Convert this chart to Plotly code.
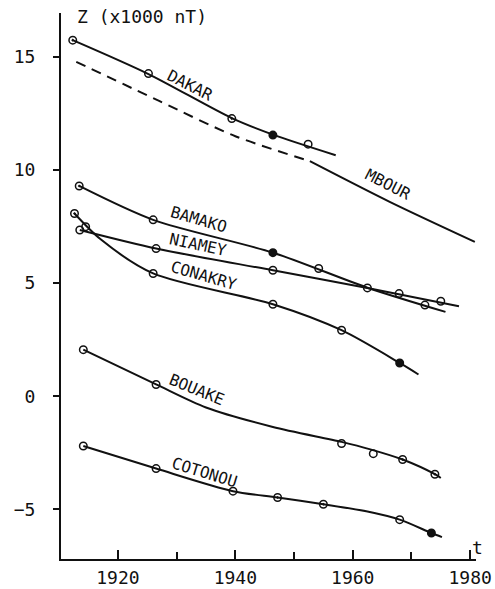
import plotly.graph_objects as go

# ---------------- data ----------------
# observations (markers) and smooth curve knots, per station
dakar_obs_t = [1912.3, 1925.2, 1939.4, 1946.4, 1952.4]
dakar_obs_z = [15.75, 14.27, 12.28, 11.55, 11.15]
dakar_curve_t = [1912.3, 1925.2, 1939.4, 1946.4, 1957.1]
dakar_curve_z = [15.75, 14.25, 12.3, 11.57, 10.66]

dakar_dash_t = [1912.9, 1927.1, 1940.0, 1952.7]
dakar_dash_z = [14.79, 13.05, 11.50, 10.40]

mbour_curve_t = [1952.7, 1966.3, 1980.8]
mbour_curve_z = [10.40, 8.60, 6.83]

bamako_obs_t = [1913.4, 1926.0, 1946.4, 1954.2, 1972.3]
bamako_obs_z = [9.30, 7.80, 6.35, 5.65, 4.03]
bamako_curve_t = [1913.4, 1926.0, 1946.4, 1962.5, 1975.8]
bamako_curve_z = [9.30, 7.80, 6.35, 4.80, 3.73]

niamey_obs_t = [1913.5, 1926.5, 1946.4, 1962.5, 1967.9, 1975.0]
niamey_obs_z = [7.35, 6.53, 5.57, 4.79, 4.54, 4.20]
niamey_curve_t = [1913.5, 1926.5, 1946.4, 1962.5, 1978.1]
niamey_curve_z = [7.35, 6.53, 5.57, 4.79, 3.98]

conakry_obs_t = [1912.6, 1914.5, 1926.0, 1946.4, 1958.1, 1968.0]
conakry_obs_z = [8.08, 7.50, 5.43, 4.07, 2.92, 1.47]
conakry_curve_t = [1912.6, 1917.0, 1926.0, 1946.4, 1958.1, 1968.0, 1971.2]
conakry_curve_z = [8.08, 6.95, 5.43, 4.07, 2.92, 1.47, 0.96]

bouake_obs_t = [1914.1, 1926.5, 1958.1, 1963.5, 1968.5, 1974.0]
bouake_obs_z = [2.06, 0.52, -2.09, -2.54, -2.80, -3.45]
bouake_curve_t = [1914.1, 1926.5, 1935.0, 1946.4, 1958.1, 1963.0, 1968.5, 1974.0, 1975.0]
bouake_curve_z = [2.06, 0.52, -0.50, -1.36, -2.02, -2.35, -2.80, -3.45, -3.62]

cotonou_obs_t = [1914.1, 1926.5, 1939.6, 1947.2, 1955.0, 1968.0, 1973.4]
cotonou_obs_z = [-2.20, -3.20, -4.20, -4.48, -4.78, -5.46, -6.05]
cotonou_curve_t = [1914.1, 1926.5, 1939.6, 1947.2, 1955.0, 1962.3, 1968.0, 1973.4, 1975.2]
cotonou_curve_z = [-2.20, -3.20, -4.20, -4.48, -4.78, -5.09, -5.46, -6.05, -6.23]

x_ticks = [1920, 1940, 1960, 1980]
x_minor = [1930, 1950, 1970]
y_ticks = [-5, 0, 5, 10, 15]

# label texts and anchor points (data coords)
label_names = ["DAKAR", "MBOUR", "BAMAKO", "NIAMEY", "CONAKRY", "BOUAKE", "COTONOU"]
label_t = [1932.4, 1966.1, 1933.8, 1933.6, 1934.6, 1933.4, 1934.8]
label_z = [13.76, 9.38, 7.83, 6.73, 5.35, 0.31, -3.36]

# ---------------- styles ----------------
O, D, F = "circle-open", "circle-open-dot", "circle"
dakar_sym = [D, O, D, F, O]
bamako_sym = [D, O, F, O, O]
niamey_sym = [O, O, O, O, O, O]
conakry_sym = [D, O, O, O, O, F]
bouake_sym = [O, O, O, O, D, D]
cotonou_sym = [O, O, O, D, D, O, F]
label_angle = [27, 27, 16, 12, 16, 22, 17]

FONT = "DejaVu Sans Mono"
INK = "#111111"

fig = go.Figure()

def curve(t, z, dash="solid"):
    fig.add_trace(go.Scatter(
        x=t, y=z, mode="lines",
        line=dict(color=INK, width=2, dash=dash, shape="spline", smoothing=0.8),
        hoverinfo="skip", showlegend=False))

def obs(t, z, sym):
    fig.add_trace(go.Scatter(
        x=t, y=z, mode="markers",
        marker=dict(symbol=sym, size=7.5, color=INK, line=dict(color=INK, width=1.5)),
        showlegend=False, cliponaxis=False))

curve(dakar_curve_t, dakar_curve_z)
curve(dakar_dash_t, dakar_dash_z, dash="10px,7px")
curve(mbour_curve_t, mbour_curve_z)
curve(bamako_curve_t, bamako_curve_z)
curve(niamey_curve_t, niamey_curve_z)
curve(conakry_curve_t, conakry_curve_z)
curve(bouake_curve_t, bouake_curve_z)
curve(cotonou_curve_t, cotonou_curve_z)

obs(dakar_obs_t, dakar_obs_z, dakar_sym)
obs(bamako_obs_t, bamako_obs_z, bamako_sym)
obs(niamey_obs_t, niamey_obs_z, niamey_sym)
obs(conakry_obs_t, conakry_obs_z, conakry_sym)
obs(bouake_obs_t, bouake_obs_z, bouake_sym)
obs(cotonou_obs_t, cotonou_obs_z, cotonou_sym)

for name, t, z, a in zip(label_names, label_t, label_z, label_angle):
    fig.add_annotation(x=t, y=z, xref="x", yref="y", text=name, showarrow=False,
                       textangle=a, font=dict(family=FONT, size=16, color=INK))

W, H = 495, 589
ML, MR, MT, MB = 61, 19, 13, 30
pw, ph = W - ML - MR, H - MT - MB

def px_to_paper(px, py):
    return (px - ML) / pw, (H - py - MB) / ph

ax, ay = px_to_paper(75, 17)
fig.add_annotation(x=ax, y=ay, xref="paper", yref="paper", text="Z (x1000 nT)",
                   showarrow=False, xanchor="left", yanchor="middle",
                   font=dict(family=FONT, size=18, color=INK))
tx, ty = px_to_paper(477, 547)
fig.add_annotation(x=tx, y=ty, xref="paper", yref="paper", text="t",
                   showarrow=False, xanchor="center", yanchor="middle",
                   font=dict(family=FONT, size=18, color=INK))

fig.update_layout(
    width=W, height=H, margin=dict(l=ML, r=MR, t=MT, b=MB, pad=0, autoexpand=False),
    paper_bgcolor="white", plot_bgcolor="white",
    font=dict(family=FONT, size=18, color=INK),
    xaxis=dict(range=[1910.3, 1981.0], tickvals=x_ticks, ticks="inside", ticklen=9, tickwidth=1.5,
               tickcolor=INK, showline=True, linecolor=INK, linewidth=2, showgrid=False, zeroline=False,
               ticklabelstandoff=1, automargin=False,
               minor=dict(tickvals=x_minor, ticks="inside", ticklen=7, tickwidth=1.5, tickcolor=INK)),
    yaxis=dict(range=[-7.2, 16.95], tickvals=y_ticks, ticks="outside", ticklen=6, tickwidth=1.5,
               tickcolor=INK, showline=True, linecolor=INK, linewidth=2, showgrid=False, zeroline=False,
               ticklabelstandoff=14, automargin=False),
)

fig.write_html("out.html", config={"displayModeBar": False},
               post_script="document.body.style.margin='0px';document.body.style.padding='0px';")
